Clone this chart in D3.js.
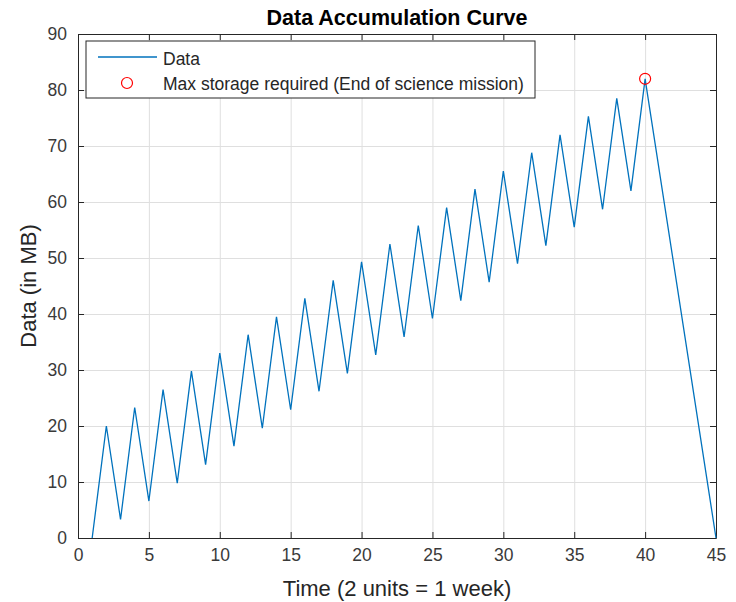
<!DOCTYPE html>
<html>
<head>
<meta charset="utf-8">
<script src="https://cdn.jsdelivr.net/npm/d3@7"></script>
<style>
  body { margin: 0; background: #fff; }
  svg text { font-family: "Liberation Sans", Arial, sans-serif; fill: #262626; }
  .grid line { stroke: #dfdfdf; stroke-width: 1; }
  .grid path { display: none; }
  .axis path, .axis line { stroke: #262626; }
  .axis text { font-size: 17.5px; fill: #3a3a3a; }
</style>
</head>
<body>
<div id="chart"></div>
<script>
// time (2 units = 1 week) and stored data in MB
const times = [1, 2, 3, 4, 5, 6, 7, 8, 9, 10, 11, 12, 13, 14, 15, 16, 17, 18, 19, 20,
  21, 22, 23, 24, 25, 26, 27, 28, 29, 30, 31, 32, 33, 34, 35, 36, 37, 38, 39, 40, 45];
const dataMB = [0, 20, 3.3, 23.3, 6.6, 26.5, 9.8, 29.8, 13.1, 33, 16.4, 36.3, 19.6, 39.5,
  22.9, 42.8, 26.2, 46, 29.4, 49.3, 32.7, 52.5, 35.9, 55.8, 39.2, 59, 42.4, 62.3, 45.7,
  65.5, 49, 68.8, 52.2, 72, 55.5, 75.3, 58.7, 78.5, 62, 82, 0];
const maxPoint = [40, 82];
const xTicks = [0, 5, 10, 15, 20, 25, 30, 35, 40, 45];
const yTicks = [0, 10, 20, 30, 40, 50, 60, 70, 80, 90];
const legendLabels = ["Data", "Max storage required (End of science mission)"];

const W = 736, H = 602;
const M = { left: 78, right: 20, top: 34, bottom: 64 };

const svg = d3.select("#chart").append("svg").attr("width", W).attr("height", H);

const x = d3.scaleLinear().domain([0, 45]).range([M.left, W - M.right]);
const y = d3.scaleLinear().domain([0, 90]).range([H - M.bottom, M.top]);

// grid
svg.append("g").attr("class", "grid")
  .attr("transform", `translate(0,${H - M.bottom})`)
  .call(d3.axisBottom(x).tickValues(xTicks).tickSize(-(H - M.top - M.bottom)).tickFormat(""));
svg.append("g").attr("class", "grid")
  .attr("transform", `translate(${M.left},0)`)
  .call(d3.axisLeft(y).tickValues(yTicks).tickSize(-(W - M.left - M.right)).tickFormat(""));

// box with inward ticks on all sides
svg.append("g").attr("class", "axis")
  .attr("transform", `translate(0,${H - M.bottom})`)
  .call(d3.axisBottom(x).tickValues(xTicks).tickSizeInner(-6).tickSizeOuter(0).tickPadding(11))
  .call(g => g.selectAll("text").attr("dy", "0.71em"));
svg.append("g").attr("class", "axis")
  .attr("transform", `translate(0,${M.top})`)
  .call(d3.axisTop(x).tickValues(xTicks).tickSizeInner(-6).tickSizeOuter(0).tickFormat(""));
svg.append("g").attr("class", "axis")
  .attr("transform", `translate(${M.left},0)`)
  .call(d3.axisLeft(y).tickValues(yTicks).tickSizeInner(-6).tickSizeOuter(0).tickPadding(11));
svg.append("g").attr("class", "axis")
  .attr("transform", `translate(${W - M.right},0)`)
  .call(d3.axisRight(y).tickValues(yTicks).tickSizeInner(-6).tickSizeOuter(0).tickFormat(""));

// data line
const line = d3.line().x((d, i) => x(times[i])).y(d => y(d));
svg.append("path")
  .datum(dataMB)
  .attr("fill", "none")
  .attr("stroke", "#0072bd")
  .attr("stroke-width", 1.3)
  .attr("d", line);

// max marker
svg.append("circle")
  .attr("cx", x(maxPoint[0])).attr("cy", y(maxPoint[1])).attr("r", 5.5)
  .attr("fill", "none").attr("stroke", "#ff0000").attr("stroke-width", 1.2);

// title and labels
svg.append("text")
  .attr("x", (M.left + W - M.right) / 2).attr("y", 25)
  .attr("text-anchor", "middle")
  .style("font-size", "21.5px").style("font-weight", "bold").style("fill", "#000")
  .text("Data Accumulation Curve");

svg.append("text")
  .attr("x", (M.left + W - M.right) / 2).attr("y", 596)
  .attr("text-anchor", "middle")
  .style("font-size", "22px")
  .text("Time (2 units = 1 week)");

svg.append("text")
  .attr("transform", `translate(36,${(M.top + H - M.bottom) / 2}) rotate(-90)`)
  .attr("text-anchor", "middle")
  .style("font-size", "22px")
  .text("Data (in MB)");

// legend
const lg = svg.append("g").attr("transform", "translate(86,41)");
lg.append("rect").attr("width", 449).attr("height", 57)
  .attr("fill", "#fff").attr("stroke", "#262626").attr("stroke-width", 1);
lg.append("line").attr("x1", 12).attr("x2", 71).attr("y1", 16).attr("y2", 16)
  .attr("stroke", "#0072bd").attr("stroke-width", 1.3);
lg.append("circle").attr("cx", 41).attr("cy", 42).attr("r", 5.5)
  .attr("fill", "none").attr("stroke", "#ff0000").attr("stroke-width", 1.2);
lg.selectAll("text.lbl").data(legendLabels).join("text")
  .attr("class", "lbl")
  .attr("x", 77).attr("y", (d, i) => 18 + i * 24.5).attr("dy", "0.35em")
  .style("font-size", "17.5px")
  .text(d => d);
</script>
</body>
</html>
